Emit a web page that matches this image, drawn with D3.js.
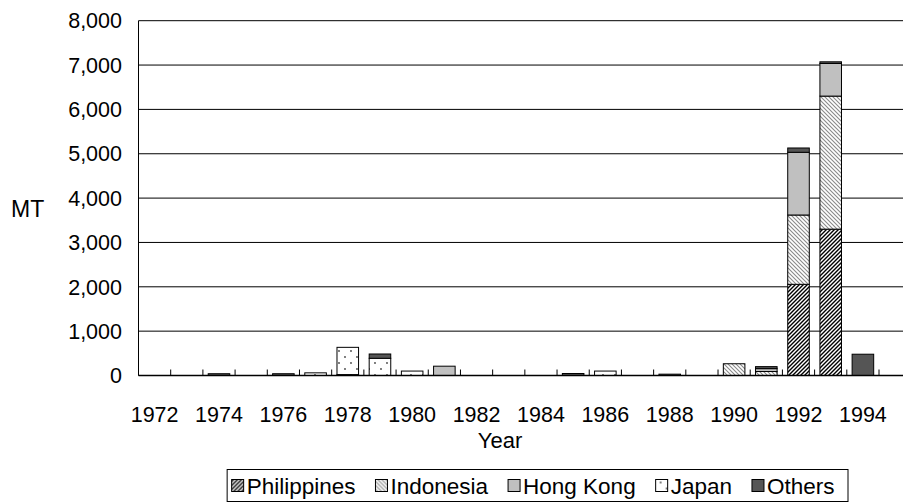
<!DOCTYPE html>
<html>
<head>
<meta charset="utf-8">
<script src="https://cdn.jsdelivr.net/npm/d3@7"></script>
<style>
  body { margin: 0; background: #fff; }
  text { font-family: "Liberation Sans", Arial, sans-serif; fill: #000; }
</style>
</head>
<body>
<div class="canvas"></div>
<script>
const years = ["1972","1973","1974","1975","1976","1977","1978","1979","1980","1981","1982","1983",
  "1984","1985","1986","1987","1988","1989","1990","1991","1992","1993","1994"];
const philippines = [0,0,0,0,0,0,20,0,0,0,0,0,0,0,0,0,0,0,0,0,2056,3300,0];
const indonesia   = [0,0,0,0,0,0,0,0,0,0,0,0,0,0,0,0,0,0,265,90,1563,3000,0];
const hongKong    = [0,0,0,0,0,0,0,0,0,210,0,0,0,0,0,0,0,0,0,65,1414,735,0];
const japan       = [0,0,0,0,0,60,615,388,100,0,0,0,0,0,100,0,0,0,0,0,0,0,0];
const others      = [0,0,40,0,40,0,0,97,0,0,0,0,0,45,0,0,30,0,0,45,97,38,480];
const seriesNames = ["Philippines", "Indonesia", "Hong Kong", "Japan", "Others"];
const yTicks = [0, 1000, 2000, 3000, 4000, 5000, 6000, 7000, 8000];
const xLabels = ["1972","1974","1976","1978","1980","1982","1984","1986","1988","1990","1992","1994"];

const dims = { width: 903, height: 502 };
const plot = { left: 138.5, right: 879, top: 20.7, bottom: 375.5 };

const svg = d3.select(".canvas")
  .append("svg")
  .attr("width", dims.width)
  .attr("height", dims.height);

// fill patterns
const defs = svg.append("defs");

const pPhil = defs.append("pattern").attr("id", "p-phil")
  .attr("patternUnits", "userSpaceOnUse").attr("width", 4).attr("height", 4);
pPhil.append("rect").attr("width", 4).attr("height", 4).attr("fill", "#fff");
pPhil.append("path").attr("d", "M-1,1 l2,-2 M0,4 l4,-4 M3,5 l2,-2")
  .attr("stroke", "#000").attr("stroke-width", 1.4);

const pIndo = defs.append("pattern").attr("id", "p-indo")
  .attr("patternUnits", "userSpaceOnUse").attr("width", 4).attr("height", 4);
pIndo.append("rect").attr("width", 4).attr("height", 4).attr("fill", "#fff");
pIndo.append("path").attr("d", "M-1,3 l2,2 M0,0 l4,4 M3,-1 l2,2")
  .attr("stroke", "#8a8a8a").attr("stroke-width", 1.1);

const pJap = defs.append("pattern").attr("id", "p-jap")
  .attr("patternUnits", "userSpaceOnUse").attr("width", 12).attr("height", 12);
pJap.append("rect").attr("width", 12).attr("height", 12).attr("fill", "#fff");
pJap.append("circle").attr("cx", 3).attr("cy", 3).attr("r", 0.9).attr("fill", "#444");
pJap.append("circle").attr("cx", 9).attr("cy", 9).attr("r", 0.9).attr("fill", "#444");

const fills = {
  "Philippines": "url(#p-phil)",
  "Indonesia": "url(#p-indo)",
  "Hong Kong": "#c0c0c0",
  "Japan": "url(#p-jap)",
  "Others": "#555555"
};

// data table for the stack
const table = years.map((y, i) => ({
  year: y,
  "Philippines": philippines[i],
  "Indonesia": indonesia[i],
  "Hong Kong": hongKong[i],
  "Japan": japan[i],
  "Others": others[i]
}));

const x = d3.scaleBand().domain(years).range([plot.left, plot.right]).padding(0);
const y = d3.scaleLinear().domain([0, 8000]).range([plot.bottom, plot.top]);
const barW = x.bandwidth() * 0.67;

// gridlines
svg.append("g")
  .selectAll("line")
  .data(yTicks)
  .enter().append("line")
  .attr("x1", plot.left).attr("x2", dims.width)
  .attr("y1", d => y(d)).attr("y2", d => y(d))
  .attr("stroke", "#000").attr("stroke-width", 1);

// y axis line + labels
svg.append("line")
  .attr("x1", plot.left).attr("x2", plot.left)
  .attr("y1", plot.top).attr("y2", plot.bottom)
  .attr("stroke", "#000");

svg.append("g")
  .selectAll("text")
  .data(yTicks)
  .enter().append("text")
  .attr("x", 122).attr("y", d => y(d))
  .attr("dy", "0.36em")
  .attr("text-anchor", "end")
  .style("font-size", "21.5px")
  .text(d => d3.format(",")(d));

svg.append("text")
  .attr("x", 11).attr("y", 209).attr("dy", "0.36em")
  .style("font-size", "23px")
  .text("MT");

// stacked bars
const stack = d3.stack().keys(seriesNames);
const layers = svg.append("g").selectAll("g")
  .data(stack(table))
  .enter().append("g")
  .attr("fill", d => fills[d.key]);

layers.selectAll("rect")
  .data(d => d.filter(s => s[1] - s[0] > 0))
  .enter().append("rect")
  .attr("x", d => x(d.data.year) + (x.bandwidth() - barW) / 2)
  .attr("width", barW)
  .attr("y", d => y(d[1]))
  .attr("height", d => y(d[0]) - y(d[1]))
  .attr("stroke", "#000")
  .attr("stroke-width", 1);

// x axis: baseline and upward ticks at band boundaries
svg.append("line")
  .attr("x1", plot.left).attr("x2", dims.width)
  .attr("y1", plot.bottom).attr("y2", plot.bottom)
  .attr("stroke", "#000").attr("stroke-width", 1.5);

svg.append("g")
  .selectAll("line")
  .data(years.slice(1).concat(["end"]))
  .enter().append("line")
  .attr("x1", (d, i) => plot.left + (i + 1) * x.step())
  .attr("x2", (d, i) => plot.left + (i + 1) * x.step())
  .attr("y1", plot.bottom).attr("y2", plot.bottom - 6)
  .attr("stroke", "#000");

svg.append("g")
  .selectAll("text")
  .data(xLabels)
  .enter().append("text")
  .attr("x", d => x(d) + x.bandwidth() / 2)
  .attr("y", 414).attr("dy", "0.36em")
  .attr("text-anchor", "middle")
  .style("font-size", "21.5px")
  .text(d => d);

svg.append("text")
  .attr("x", 500).attr("y", 440).attr("dy", "0.36em")
  .attr("text-anchor", "middle")
  .style("font-size", "22px")
  .text("Year");

// legend
const legendGroup = svg.append("g");
const legendBox = legendGroup.append("rect")
  .attr("fill", "#fff").attr("stroke", "#000").attr("stroke-width", 1);

let cursor = 0;
const gap = 20;
seriesNames.forEach((name) => {
  const g = legendGroup.append("g");
  g.append("rect")
    .attr("x", cursor).attr("y", -6).attr("width", 12).attr("height", 12)
    .attr("fill", fills[name]).attr("stroke", "#000");
  const t = g.append("text")
    .attr("x", cursor + 15).attr("y", 0).attr("dy", "0.36em")
    .style("font-size", "22.5px")
    .text(name);
  cursor += 15 + t.node().getComputedTextLength() + gap;
});
const legendW = cursor - gap + 4 + 14;
const legendRight = 848;
const legendLeft = legendRight - legendW;
legendBox.attr("x", -4 - 0.5).attr("y", -16).attr("width", legendW).attr("height", 32);
legendGroup.attr("transform", `translate(${legendLeft + 4.5}, 485.5)`);
</script>
</body>
</html>
